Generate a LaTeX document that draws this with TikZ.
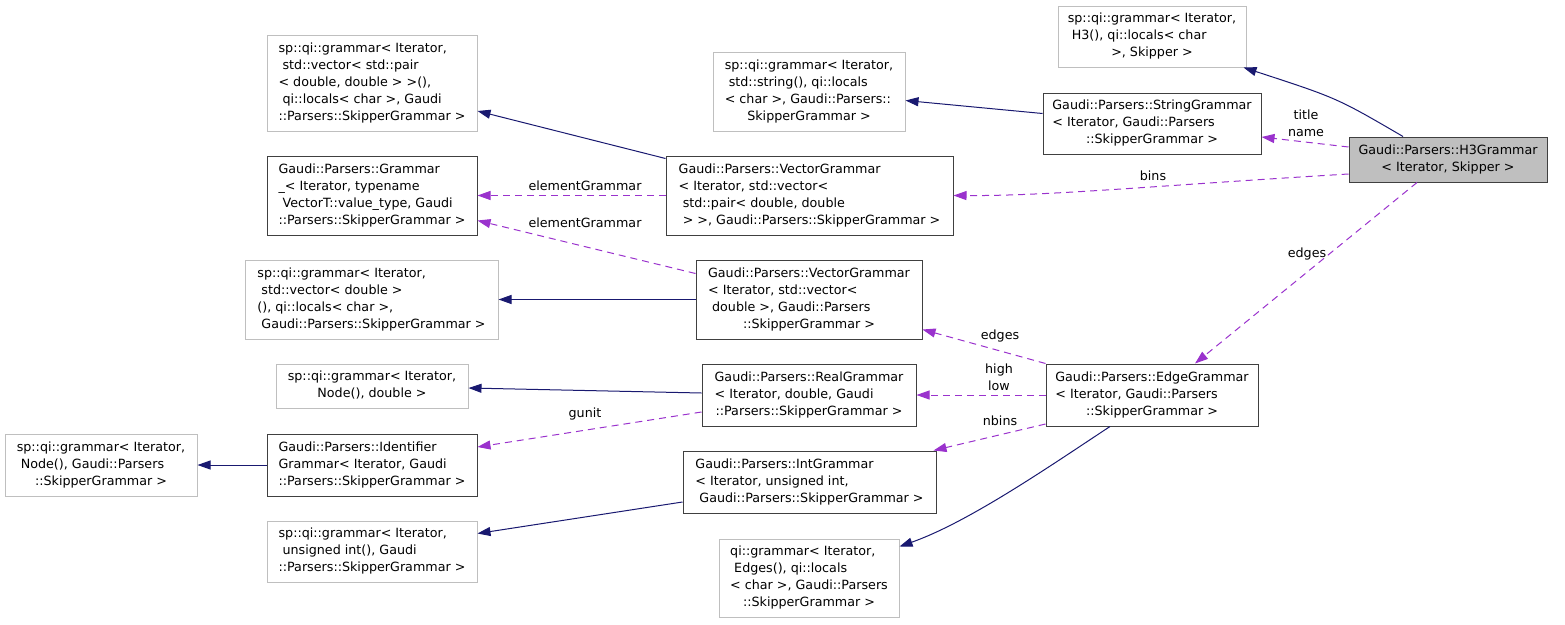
\documentclass[tikz,border=0pt]{standalone}
\usepackage{fontspec}
\setmainfont{DejaVu Sans}
\usetikzlibrary{arrows.meta}
\definecolor{navy}{HTML}{191970}
\definecolor{orch}{HTML}{9A32CD}
\definecolor{boxgray}{HTML}{BFBFBF}
\definecolor{boxdark}{HTML}{404040}
\newcommand{\dlbl}[2]{\begin{tabular}{@{}l@{}}#1\\\multicolumn{1}{@{}c@{}}{#2}\end{tabular}}
\begin{document}
\begin{tikzpicture}[x=1pt,y=-1pt,
  font=\fontsize{12.7}{17}\selectfont,
  box/.style={rectangle, inner sep=0pt, line width=1pt, fill=white},
  ext/.style={box, draw=boxgray},
  cls/.style={box, draw=boxdark},
  mainc/.style={box, draw=boxdark, fill=boxgray},
  inh/.style={-{Triangle[length=13pt,width=9pt,fill=navy]}, draw=navy, line width=1pt},
  use/.style={-{Triangle[length=13pt,width=9pt,fill=orch]}, draw=orch, line width=1pt, dash pattern=on 7pt off 5pt},
  elbl/.style={align=center, inner sep=0pt}]
\useasboundingbox (0,0) rectangle (1565,624);

% nodes
\node[mainc, minimum width=198pt, minimum height=45pt] (A) at (1448,159.5)
  {\dlbl{Gaudi::Parsers::H3Grammar}{< Iterator, Skipper >}};
\node[ext, minimum width=188pt, minimum height=61pt] (B) at (1152,36.5)
  {\dlbl{sp::qi::grammar< Iterator,\\\ H3(), qi::locals< char}{>, Skipper >}};
\node[cls, minimum width=218pt, minimum height=61pt] (C) at (1152,123.5)
  {\dlbl{Gaudi::Parsers::StringGrammar\\< Iterator, Gaudi::Parsers}{::SkipperGrammar >}};
\node[ext, minimum width=192pt, minimum height=79pt] (D) at (809,91.5)
  {\dlbl{sp::qi::grammar< Iterator,\\\ std::string(), qi::locals\\< char >, Gaudi::Parsers::}{SkipperGrammar >}};
\node[cls, minimum width=287pt, minimum height=79pt] (E) at (809.5,195.5)
  {\dlbl{Gaudi::Parsers::VectorGrammar\\< Iterator, std::vector<\\\ std::pair< double, double}{\ > >, Gaudi::Parsers::SkipperGrammar >}};
\node[ext, minimum width=210pt, minimum height=96pt] (F) at (372,83)
  {\dlbl{sp::qi::grammar< Iterator,\\\ std::vector< std::pair\\< double, double > >(),\\\ qi::locals< char >, Gaudi}{::Parsers::SkipperGrammar >}};
\node[cls, minimum width=210pt, minimum height=79pt] (G) at (372,195.5)
  {\dlbl{Gaudi::Parsers::Grammar\\\_< Iterator, typename\\\ VectorT::value\_type, Gaudi}{::Parsers::SkipperGrammar >}};
\node[ext, minimum width=253pt, minimum height=79pt] (H) at (371.5,299.5)
  {\dlbl{sp::qi::grammar< Iterator,\\\ std::vector< double >\\(), qi::locals< char >,}{\ Gaudi::Parsers::SkipperGrammar >}};
\node[cls, minimum width=226pt, minimum height=79pt] (I) at (809,299.5)
  {\dlbl{Gaudi::Parsers::VectorGrammar\\< Iterator, std::vector<\\\ double >, Gaudi::Parsers}{::SkipperGrammar >}};
\node[ext, minimum width=192pt, minimum height=44pt] (J) at (372,386)
  {\dlbl{sp::qi::grammar< Iterator,}{Node(), double >}};
\node[cls, minimum width=214pt, minimum height=62pt] (K) at (809,395)
  {\dlbl{Gaudi::Parsers::RealGrammar\\< Iterator, double, Gaudi}{::Parsers::SkipperGrammar >}};
\node[ext, minimum width=192pt, minimum height=62pt] (L) at (101,465)
  {\dlbl{sp::qi::grammar< Iterator,\\\ Node(), Gaudi::Parsers}{::SkipperGrammar >}};
\node[cls, minimum width=210pt, minimum height=62pt] (M) at (372,465)
  {\dlbl{Gaudi::Parsers::Identifier\\Grammar< Iterator, Gaudi}{::Parsers::SkipperGrammar >}};
\node[cls, minimum width=253pt, minimum height=62pt] (N) at (809.5,482)
  {\dlbl{Gaudi::Parsers::IntGrammar\\< Iterator, unsigned int,}{\ Gaudi::Parsers::SkipperGrammar >}};
\node[ext, minimum width=210pt, minimum height=61pt] (O) at (372,551.5)
  {\dlbl{sp::qi::grammar< Iterator,\\\ unsigned int(), Gaudi}{::Parsers::SkipperGrammar >}};
\node[ext, minimum width=180pt, minimum height=78pt] (P) at (809,578)
  {\dlbl{qi::grammar< Iterator,\\\ Edges(), qi::locals\\< char >, Gaudi::Parsers}{::SkipperGrammar >}};
\node[cls, minimum width=212pt, minimum height=62pt] (Q) at (1152,395)
  {\dlbl{Gaudi::Parsers::EdgeGrammar\\< Iterator, Gaudi::Parsers}{::SkipperGrammar >}};

% edges
\draw[inh] ([xshift=-45pt]A.north) .. controls (1337,98) .. ([xshift=-3pt]B.south east);
\draw[use] ([yshift=12.5pt]A.west) -- ([yshift=-13.5pt]C.east);
\draw[use] ([yshift=-14.5pt]A.west) .. controls (1150,186) and (1050,196) .. (E.east);
\draw[use] ([xshift=-31pt]A.south) -- ([xshift=43pt]Q.north);
\draw[inh] ([yshift=10pt]C.west) -- ([yshift=-9pt]D.east);
\draw[inh] ([yshift=37pt]E.west) -- ([yshift=-28pt]F.east);
\draw[use] (E.west) -- (G.east);
\draw[use] ([yshift=26pt]I.west) -- ([yshift=-25pt]G.east);
\draw[inh] (I.west) -- (H.east);
\draw[use] (Q.north west) -- ([yshift=-30pt]I.east);
\draw[use] (Q.west) -- (K.east);
\draw[use] ([yshift=-29pt]Q.west) -- ([xshift=-3pt]N.north east);
\draw[inh] ([xshift=-42pt]Q.south) .. controls (1050,466) and (969,522) .. ([yshift=-8pt]P.north east);
\draw[inh] ([yshift=2pt]K.west) -- ([yshift=-2pt]J.east);
\draw[use] ([yshift=-17pt]K.west) -- ([yshift=18pt]M.east);
\draw[inh] (M.west) -- (L.east);
\draw[inh] ([yshift=-20pt]N.west) -- ([yshift=18pt]O.east);

% edge labels
\node[elbl] (lTitle) at (1306,123.5) {title\\name};
\node[elbl] (lBins) at (1153,176) {bins};
\node[elbl] (lEdgesA) at (1307,254) {edges};
\node[elbl] (lElem1) at (585,186) {elementGrammar};
\node[elbl] (lElem2) at (585,223) {elementGrammar};
\node[elbl] (lEdgesQ) at (1000,336) {edges};
\node[elbl] (lHigh) at (999,377.5) {high\\low};
\node[elbl] (lNbins) at (1000,421) {nbins};
\node[elbl] (lGunit) at (585,414) {gunit};
\end{tikzpicture}
\end{document}
